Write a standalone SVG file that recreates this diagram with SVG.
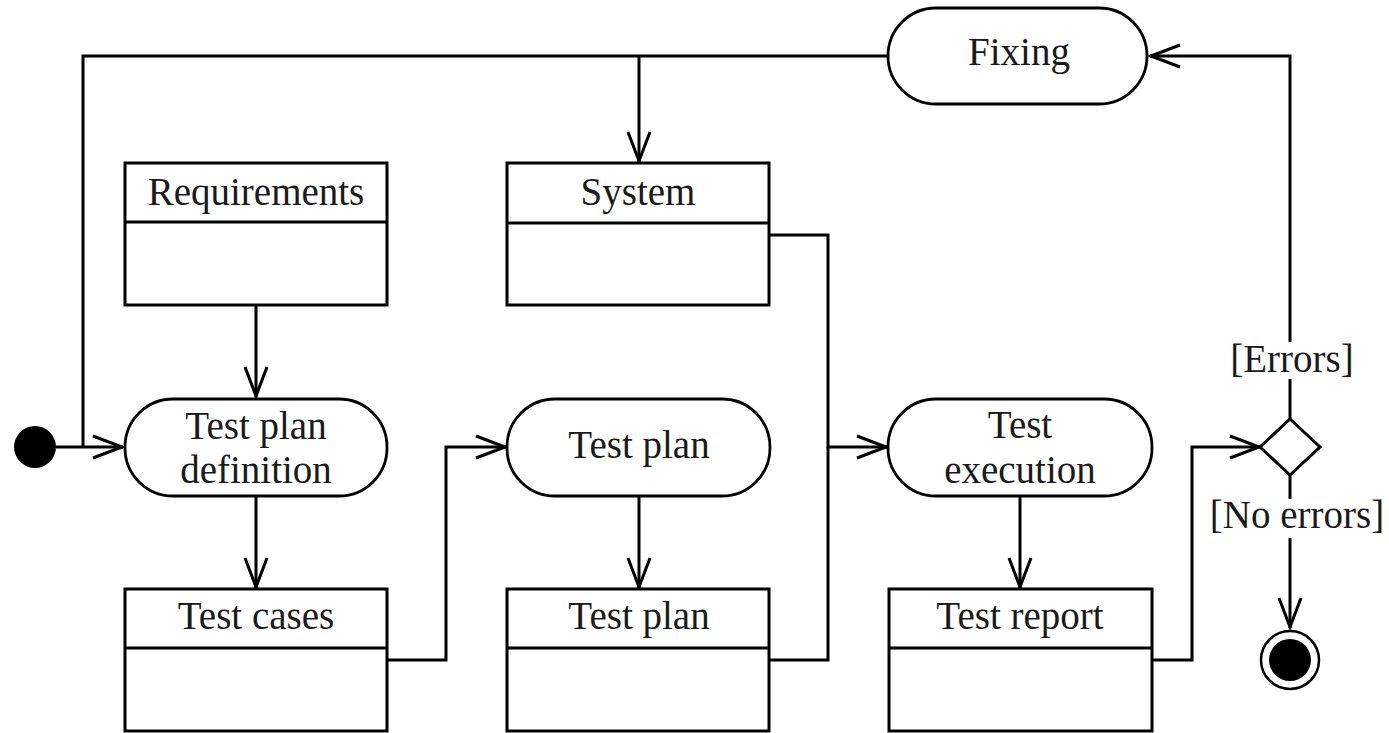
<svg xmlns="http://www.w3.org/2000/svg" width="1389" height="733" viewBox="0 0 1389 733">
<style>
.box{fill:#fff;stroke:#000;stroke-width:3}
.act{fill:#fff;stroke:#000;stroke-width:2.8}
.ln{fill:none;stroke:#000;stroke-width:3}
.t{font-family:"Liberation Serif","Times New Roman",serif;font-size:39px;fill:#1a1a1a;text-anchor:middle}
</style>
<defs>
<marker id="arr" viewBox="-34 -14 36 28" refX="0" refY="0" markerWidth="36" markerHeight="28" markerUnits="userSpaceOnUse" orient="auto">
<path d="M-30,-11 L-1,0 L-30,11" fill="none" stroke="#000" stroke-width="3"/>
</marker>
</defs>
<rect width="1389" height="733" fill="#fff"/>
<g id="connectors">
<path class="ln" d="M888,56 L83,56 L83,447"/>
<path class="ln" d="M56,447 L123,447" marker-end="url(#arr)"/>
<path class="ln" d="M639,56 L639,162" marker-end="url(#arr)"/>
<path class="ln" d="M256,305 L256,397" marker-end="url(#arr)"/>
<path class="ln" d="M256,496 L256,588" marker-end="url(#arr)"/>
<path class="ln" d="M387,660 L446,660 L446,447 L506,447" marker-end="url(#arr)"/>
<path class="ln" d="M639,496 L639,588" marker-end="url(#arr)"/>
<path class="ln" d="M769,235 L828,235 L828,447 L887,447" marker-end="url(#arr)"/>
<path class="ln" d="M769,660 L828,660 L828,447"/>
<path class="ln" d="M1020,496 L1020,588" marker-end="url(#arr)"/>
<path class="ln" d="M1152,660 L1192,660 L1192,447 L1260,447" marker-end="url(#arr)"/>
<path class="ln" d="M1290,419 L1290,379"/>
<path class="ln" d="M1290,342 L1290,56 L1150,56" marker-end="url(#arr)"/>
<path class="ln" d="M1290,474 L1290,499"/>
<path class="ln" d="M1290,538 L1290,628" marker-end="url(#arr)"/>
<text class="t" x="1292" y="372">[Errors]</text>
<text class="t" x="1297" y="528">[No errors]</text>
</g>
<g id="initial"><circle cx="35" cy="447" r="21" fill="#000"/></g>
<g id="fixing">
<rect class="act" x="888" y="8" width="259" height="96" rx="48" ry="48"/>
<text class="t" x="1019" y="65">Fixing</text>
</g>
<g id="requirements">
<rect class="box" x="125" y="163" width="262" height="142"/>
<line class="ln" x1="125" y1="222" x2="387" y2="222"/>
<text class="t" x="256" y="205">Requirements</text>
</g>
<g id="system">
<rect class="box" x="507" y="163" width="262" height="142"/>
<line class="ln" x1="507" y1="223" x2="769" y2="223"/>
<text class="t" x="638" y="205">System</text>
</g>
<g id="test-plan-definition">
<rect class="act" x="125" y="399" width="262" height="97" rx="48" ry="48"/>
<text class="t" x="256" y="439">Test plan</text>
<text class="t" x="256" y="483">definition</text>
</g>
<g id="test-plan-action">
<rect class="act" x="507" y="399" width="263" height="97" rx="48" ry="48"/>
<text class="t" x="639" y="458">Test plan</text>
</g>
<g id="test-execution">
<rect class="act" x="888" y="399" width="264" height="97" rx="48" ry="48"/>
<text class="t" x="1020" y="438">Test</text>
<text class="t" x="1020" y="483">execution</text>
</g>
<g id="test-cases">
<rect class="box" x="125" y="589" width="262" height="142"/>
<line class="ln" x1="125" y1="648" x2="387" y2="648"/>
<text class="t" x="256" y="629">Test cases</text>
</g>
<g id="test-plan-object">
<rect class="box" x="507" y="589" width="262" height="142"/>
<line class="ln" x1="507" y1="648" x2="769" y2="648"/>
<text class="t" x="639" y="629">Test plan</text>
</g>
<g id="test-report">
<rect class="box" x="889" y="589" width="263" height="142"/>
<line class="ln" x1="889" y1="648" x2="1152" y2="648"/>
<text class="t" x="1020" y="629">Test report</text>
</g>
<g id="decision">
<polygon class="box" points="1290,419 1320,447 1290,475 1260,447"/>
</g>
<g id="final">
<circle cx="1290" cy="660" r="29" fill="#fff" stroke="#000" stroke-width="2.5"/>
<circle cx="1290" cy="660" r="21" fill="#000"/>
</g>
</svg>
